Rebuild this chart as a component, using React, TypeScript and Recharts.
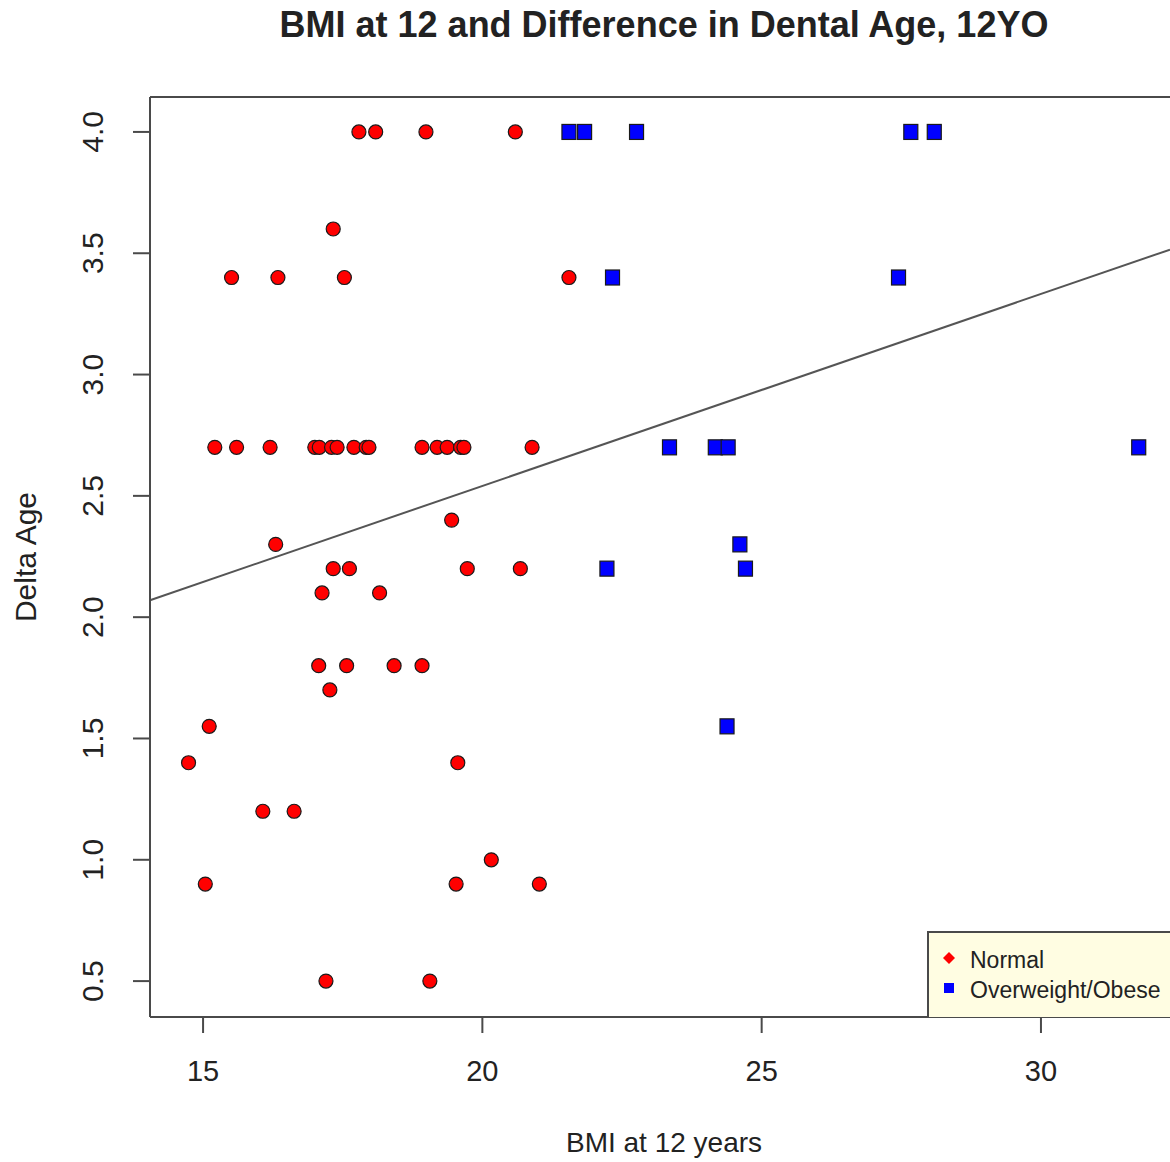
import { ScatterChart, Scatter, XAxis, YAxis, ReferenceLine, Label } from 'recharts'

// BMI at 12 (x) and delta dental age (y)
const normalBmi = [
  17.79, 18.09, 18.99, 20.59,
  17.33,
  15.51, 16.34, 17.53, 21.55,
  15.21, 15.6, 16.2, 17.0, 17.08, 17.3, 17.4, 17.7, 17.92, 17.97, 18.92, 19.19, 19.37, 19.61, 19.67, 20.89,
  19.45,
  16.3,
  17.33, 17.62, 19.73, 20.68,
  17.13, 18.16,
  17.07, 17.57, 18.42, 18.92,
  17.27,
  15.11,
  14.74, 19.56,
  16.07, 16.63,
  20.16,
  15.04, 19.53, 21.02,
  17.2, 19.06,
]
const normalDelta = [
  4.0, 4.0, 4.0, 4.0,
  3.6,
  3.4, 3.4, 3.4, 3.4,
  2.7, 2.7, 2.7, 2.7, 2.7, 2.7, 2.7, 2.7, 2.7, 2.7, 2.7, 2.7, 2.7, 2.7, 2.7, 2.7,
  2.4,
  2.3,
  2.2, 2.2, 2.2, 2.2,
  2.1, 2.1,
  1.8, 1.8, 1.8, 1.8,
  1.7,
  1.55,
  1.4, 1.4,
  1.2, 1.2,
  1.0,
  0.9, 0.9, 0.9,
  0.5, 0.5,
]

const overBmi = [21.55, 21.83, 22.76, 27.67, 28.09, 22.33, 27.45, 23.35, 24.17, 24.4, 31.75, 24.61, 22.23, 24.71, 24.38]
const overDelta = [4.0, 4.0, 4.0, 4.0, 4.0, 3.4, 3.4, 2.7, 2.7, 2.7, 2.7, 2.3, 2.2, 2.2, 1.55]

// fitted line, end points at the plot edges
const fitBmi = [14.05, 32.31]
const fitDelta = [2.07, 3.515]

const xTicks = [15, 20, 25, 30]
const yTicks = [0.5, 1.0, 1.5, 2.0, 2.5, 3.0, 3.5, 4.0]
const xDomain = [14.05, 32.31]
const yDomain = [0.352, 4.144]

const normal = normalBmi.map((b, i) => ({ bmi: b, delta: normalDelta[i] }))
const over = overBmi.map((b, i) => ({ bmi: b, delta: overDelta[i] }))

const font = '"Liberation Sans", Arial, sans-serif'
const ink = '#222'
const frame = '#4a4a4a'

const RedDot = (p: any) => (
  <circle cx={p.cx} cy={p.cy} r={7} fill="#ff0000" stroke="#1a1a1a" strokeWidth={1.2} />
)
const BlueSquare = (p: any) => (
  <rect x={p.cx - 7} y={p.cy - 7.5} width={14} height={15} fill="#0000ff" stroke="#1a1a1a" strokeWidth={1.2} />
)

const YTick = ({ x, y, payload }: any) => (
  <text x={x} y={y} transform={`rotate(-90, ${x}, ${y})`} textAnchor="middle" fontSize={30} fill={ink} fontFamily={font}>
    {payload.value.toFixed(1)}
  </text>
)

// legend box, sits in the lower right corner of the plot
const LegendBox = () => (
  <div style={{ position: 'absolute', left: 927, top: 931, width: 260, height: 86, background: '#fffde2', borderTop: `2px solid ${frame}`, borderLeft: `2px solid ${frame}`, boxSizing: 'border-box' }}>
    <svg width={258} height={84} style={{ display: 'block' }}>
      <polygon points="20,19 26,25 20,31 14,25" fill="#ff0000" />
      <text x={41} y={35} fontSize={23} fill={ink} fontFamily={font}>Normal</text>
      <rect x={15} y={50} width={10} height={10} fill="#0000ff" />
      <text x={41} y={65} fontSize={23} fill={ink} fontFamily={font}>Overweight/Obese</text>
    </svg>
  </div>
)

export default function App() {
  return (
    <div style={{ position: 'absolute', left: 0, top: 0, width: 1170, height: 1162, overflow: 'hidden', background: '#fff', fontFamily: font }}>
      <div style={{ position: 'absolute', left: 164, top: 7, width: 1000, textAlign: 'center', fontSize: 36, fontWeight: 'bold', color: ink, lineHeight: 1 }}>
        BMI at 12 and Difference in Dental Age, 12YO
      </div>
      <ScatterChart width={1170} height={1162} margin={{ top: 97, right: 0, bottom: 0, left: 0 }}>
        <XAxis
          type="number"
          dataKey="bmi"
          domain={xDomain}
          ticks={xTicks}
          allowDataOverflow
          height={145}
          tickSize={16}
          tickMargin={27}
          tick={{ fontSize: 29, fill: ink, fontFamily: font }}
          axisLine={{ stroke: frame, strokeWidth: 2 }}
          tickLine={{ stroke: frame, strokeWidth: 2 }}
        >
          <Label
            content={({ viewBox }: any) => (
              <text x={viewBox.x + viewBox.width / 2 + 4} y={viewBox.y + 135} textAnchor="middle" fontSize={28} fill={ink} fontFamily={font}>
                BMI at 12 years
              </text>
            )}
          />
        </XAxis>
        <YAxis
          type="number"
          dataKey="delta"
          domain={yDomain}
          ticks={yTicks}
          allowDataOverflow
          width={150}
          tickSize={17}
          tickMargin={30}
          tick={<YTick />}
          axisLine={{ stroke: frame, strokeWidth: 2 }}
          tickLine={{ stroke: frame, strokeWidth: 2 }}
        >
          <Label
            content={({ viewBox }: any) => {
              const cx = 36
              const cy = viewBox.y + viewBox.height / 2
              return (
                <text x={cx} y={cy} transform={`rotate(-90, ${cx}, ${cy})`} textAnchor="middle" fontSize={30} fill={ink} fontFamily={font}>
                  Delta Age
                </text>
              )
            }}
          />
        </YAxis>
        <ReferenceLine y={yDomain[1]} stroke={frame} strokeWidth={2} />
        <ReferenceLine
          segment={[{ x: fitBmi[0], y: fitDelta[0] }, { x: fitBmi[1], y: fitDelta[1] }]}
          stroke="#555"
          strokeWidth={2}
        />
        <Scatter name="Normal" data={normal} shape={<RedDot />} isAnimationActive={false} />
        <Scatter name="Overweight/Obese" data={over} shape={<BlueSquare />} isAnimationActive={false} />
      </ScatterChart>
      <LegendBox />
    </div>
  )
}
